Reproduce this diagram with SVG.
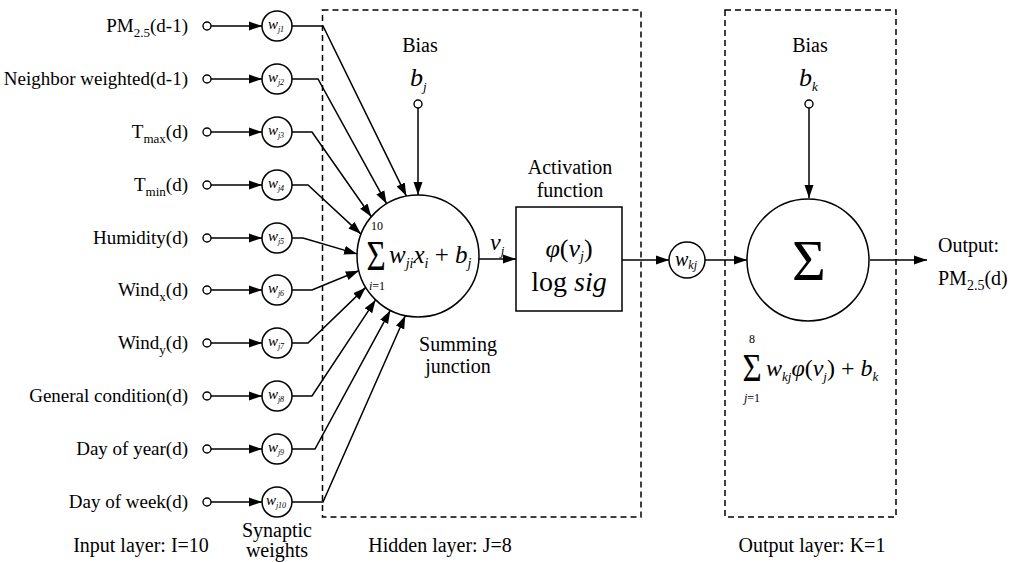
<svg xmlns="http://www.w3.org/2000/svg" width="1016" height="562" viewBox="0 0 1016 562" style="font-family: 'Liberation Serif', serif">
  <style>
    svg text, svg tspan { font-family: "Liberation Serif", serif !important; }
    text { fill: #000; }
    .lbl { font-size: 19px; }
    .cap { font-size: 20px; }
    .mi { font-style: italic; }
    .box { fill: none; stroke: #000; stroke-width: 1.5; stroke-dasharray: 6 4; }
    .arrow { fill: none; stroke: #000; stroke-width: 1.5; marker-end: url(#head); }
    .node { fill: #fff; stroke: #000; stroke-width: 1.5; }
    .port { fill: #fff; stroke: #000; stroke-width: 1.4; }
    .wt { font-size: 15px; font-style: italic; }
  </style>
  <defs>
    <marker id="head" markerUnits="userSpaceOnUse" markerWidth="13" markerHeight="10" refX="13" refY="5" orient="auto">
      <path d="M0,0.5 L13,5 L0,9.5 z" fill="#000"/>
    </marker>
  </defs>

  <rect width="1016" height="562" fill="#fff"/>

  <!-- layer frames -->
  <rect class="box" x="322.5" y="10" width="318.5" height="507"/>
  <rect class="box" x="725" y="10" width="171" height="507"/>

  <!-- connectors -->
  <g id="connectors">
    <!-- inputs to synaptic weights -->
    <path class="arrow" d="M211,26 H262"/>
    <path class="arrow" d="M211,79 H262"/>
    <path class="arrow" d="M211,132 H262"/>
    <path class="arrow" d="M211,185 H262"/>
    <path class="arrow" d="M211,238 H262"/>
    <path class="arrow" d="M211,290 H262"/>
    <path class="arrow" d="M211,343 H262"/>
    <path class="arrow" d="M211,396 H262"/>
    <path class="arrow" d="M211,449 H262"/>
    <path class="arrow" d="M211,502 H262"/>
    <!-- weights to summing junction -->
    <path class="arrow" d="M292,26 H323 L406.4,196.1"/>
    <path class="arrow" d="M292,79 H318 L386.6,203.7"/>
    <path class="arrow" d="M292,132 H312 L371.3,216.8"/>
    <path class="arrow" d="M292,185 H308 L361,234.1"/>
    <path class="arrow" d="M292,238 H303 L357,253.9"/>
    <path class="arrow" d="M292,290 H312 L358.8,270.8"/>
    <path class="arrow" d="M292,343 H308 L365.7,287.4"/>
    <path class="arrow" d="M292,396 H312 L375.6,299.9"/>
    <path class="arrow" d="M292,449 H315 L390.3,310.4"/>
    <path class="arrow" d="M292,502 H323 L405.3,315.7"/>
    <!-- hidden bias -->
    <path class="arrow" d="M418,108 V195"/>
    <!-- summing junction to activation -->
    <path class="arrow" d="M479,259 H516"/>
    <!-- activation to output weight -->
    <path class="arrow" d="M622,260 H669"/>
    <!-- output weight to output neuron -->
    <path class="arrow" d="M705,260 H747"/>
    <!-- output bias -->
    <path class="arrow" d="M809,108 V198"/>
    <!-- network output -->
    <path class="arrow" d="M870,260 H927"/>
  </g>

  <!-- input nodes -->
  <g id="input-1"><circle class="port" cx="207" cy="26" r="4"/><text class="lbl" font-family="Liberation Serif" x="188" y="32" text-anchor="end">PM<tspan font-size="13" dy="5">2.5</tspan><tspan dy="-5">(d-1)</tspan></text></g>
  <g id="input-2"><circle class="port" cx="207" cy="79" r="4"/><text class="lbl" font-family="Liberation Serif" x="188" y="85" text-anchor="end">Neighbor weighted(d-1)</text></g>
  <g id="input-3"><circle class="port" cx="207" cy="132" r="4"/><text class="lbl" font-family="Liberation Serif" x="188" y="138" text-anchor="end">T<tspan font-size="13" dy="5">max</tspan><tspan dy="-5">(d)</tspan></text></g>
  <g id="input-4"><circle class="port" cx="207" cy="185" r="4"/><text class="lbl" font-family="Liberation Serif" x="188" y="191" text-anchor="end">T<tspan font-size="13" dy="5">min</tspan><tspan dy="-5">(d)</tspan></text></g>
  <g id="input-5"><circle class="port" cx="207" cy="238" r="4"/><text class="lbl" font-family="Liberation Serif" x="188" y="244" text-anchor="end">Humidity(d)</text></g>
  <g id="input-6"><circle class="port" cx="207" cy="290" r="4"/><text class="lbl" font-family="Liberation Serif" x="188" y="296" text-anchor="end">Wind<tspan font-size="13" dy="5">x</tspan><tspan dy="-5">(d)</tspan></text></g>
  <g id="input-7"><circle class="port" cx="207" cy="343" r="4"/><text class="lbl" font-family="Liberation Serif" x="188" y="349" text-anchor="end">Wind<tspan font-size="13" dy="5">y</tspan><tspan dy="-5">(d)</tspan></text></g>
  <g id="input-8"><circle class="port" cx="207" cy="396" r="4"/><text class="lbl" font-family="Liberation Serif" x="188" y="402" text-anchor="end">General condition(d)</text></g>
  <g id="input-9"><circle class="port" cx="207" cy="449" r="4"/><text class="lbl" font-family="Liberation Serif" x="188" y="455" text-anchor="end">Day of year(d)</text></g>
  <g id="input-10"><circle class="port" cx="207" cy="502" r="4"/><text class="lbl" font-family="Liberation Serif" x="188" y="508" text-anchor="end">Day of week(d)</text></g>

  <!-- synaptic weights -->
  <g id="weight-1"><circle class="node" cx="277" cy="26" r="15"/><text class="wt" font-family="Liberation Serif" x="276" y="29" text-anchor="middle">w<tspan font-size="8" dy="3">j1</tspan></text></g>
  <g id="weight-2"><circle class="node" cx="277" cy="79" r="15"/><text class="wt" font-family="Liberation Serif" x="276" y="82" text-anchor="middle">w<tspan font-size="8" dy="3">j2</tspan></text></g>
  <g id="weight-3"><circle class="node" cx="277" cy="132" r="15"/><text class="wt" font-family="Liberation Serif" x="276" y="135" text-anchor="middle">w<tspan font-size="8" dy="3">j3</tspan></text></g>
  <g id="weight-4"><circle class="node" cx="277" cy="185" r="15"/><text class="wt" font-family="Liberation Serif" x="276" y="188" text-anchor="middle">w<tspan font-size="8" dy="3">j4</tspan></text></g>
  <g id="weight-5"><circle class="node" cx="277" cy="238" r="15"/><text class="wt" font-family="Liberation Serif" x="276" y="241" text-anchor="middle">w<tspan font-size="8" dy="3">j5</tspan></text></g>
  <g id="weight-6"><circle class="node" cx="277" cy="290" r="15"/><text class="wt" font-family="Liberation Serif" x="276" y="293" text-anchor="middle">w<tspan font-size="8" dy="3">j6</tspan></text></g>
  <g id="weight-7"><circle class="node" cx="277" cy="343" r="15"/><text class="wt" font-family="Liberation Serif" x="276" y="346" text-anchor="middle">w<tspan font-size="8" dy="3">j7</tspan></text></g>
  <g id="weight-8"><circle class="node" cx="277" cy="396" r="15"/><text class="wt" font-family="Liberation Serif" x="276" y="399" text-anchor="middle">w<tspan font-size="8" dy="3">j8</tspan></text></g>
  <g id="weight-9"><circle class="node" cx="277" cy="449" r="15"/><text class="wt" font-family="Liberation Serif" x="276" y="452" text-anchor="middle">w<tspan font-size="8" dy="3">j9</tspan></text></g>
  <g id="weight-10"><circle class="node" cx="277" cy="502" r="15"/><text class="wt" font-family="Liberation Serif" x="276" y="505" text-anchor="middle">w<tspan font-size="8" dy="3">j10</tspan></text></g>

  <!-- hidden bias -->
  <g id="bias-hidden">
    <text class="cap" font-family="Liberation Serif" x="420" y="52" text-anchor="middle">Bias</text>
    <text class="mi" font-family="Liberation Serif" x="410" y="86" font-size="26">b<tspan font-size="13" dy="5">j</tspan></text>
    <circle class="port" cx="418" cy="104" r="4"/>
  </g>

  <!-- summing junction -->
  <g id="summing-junction">
    <circle class="node" cx="418" cy="256" r="61"/>
    <text font-family="Liberation Serif" x="376" y="270" font-size="33" text-anchor="middle" transform="translate(376 270) scale(1 1.25) translate(-376 -270)">Σ</text>
    <text font-family="Liberation Serif" x="377" y="230" font-size="12" text-anchor="middle">10</text>
    <text font-family="Liberation Serif" x="377" y="290" font-size="12" text-anchor="middle"><tspan class="mi">i</tspan>=1</text>
    <text class="mi" font-family="Liberation Serif" x="389" y="263" font-size="25">w<tspan font-size="14" dy="5">ji</tspan><tspan dy="-5">x</tspan><tspan font-size="14" dy="5">i</tspan><tspan dy="-5" font-style="normal"> + </tspan>b<tspan font-size="14" dy="5">j</tspan></text>
    <text class="cap" font-family="Liberation Serif" x="458" y="351" text-anchor="middle">Summing</text>
    <text class="cap" font-family="Liberation Serif" x="458" y="373" text-anchor="middle">junction</text>
  </g>

  <!-- activation label on the link -->
  <g id="v-label">
    <text class="mi" font-family="Liberation Serif" x="490" y="250" font-size="24">v<tspan font-size="13" dy="5">j</tspan></text>
  </g>

  <!-- activation function -->
  <g id="activation">
    <text class="cap" font-family="Liberation Serif" x="570" y="174" text-anchor="middle">Activation</text>
    <text class="cap" font-family="Liberation Serif" x="570" y="197" text-anchor="middle">function</text>
    <rect class="node" x="516" y="207" width="106" height="104"/>
    <text font-family="Liberation Serif" x="569" y="257" font-size="26" text-anchor="middle"><tspan class="mi">φ</tspan>(<tspan class="mi">v</tspan><tspan class="mi" font-size="14" dy="4">j</tspan><tspan dy="-4">)</tspan></text>
    <text font-family="Liberation Serif" x="569" y="291" font-size="28" text-anchor="middle">log <tspan class="mi">sig</tspan></text>
  </g>

  <!-- output weight -->
  <g id="weight-out">
    <circle class="node" cx="687" cy="260" r="18"/>
    <text class="mi" font-family="Liberation Serif" x="686" y="266" font-size="20" text-anchor="middle">w<tspan font-size="12" dy="3">kj</tspan></text>
  </g>

  <!-- output bias -->
  <g id="bias-output">
    <text class="cap" font-family="Liberation Serif" x="810" y="52" text-anchor="middle">Bias</text>
    <text class="mi" font-family="Liberation Serif" x="799" y="86" font-size="26">b<tspan font-size="13" dy="5">k</tspan></text>
    <circle class="port" cx="809" cy="104" r="4"/>
  </g>

  <!-- output neuron -->
  <g id="output-neuron">
    <circle class="node" cx="808" cy="260" r="61"/>
    <text font-family="Liberation Serif" x="809" y="280" font-size="58" text-anchor="middle">Σ</text>
    <text font-family="Liberation Serif" x="752" y="381" font-size="33" text-anchor="middle" transform="translate(752 381) scale(1 1.2) translate(-752 -381)">Σ</text>
    <text font-family="Liberation Serif" x="752" y="343" font-size="12" text-anchor="middle">8</text>
    <text font-family="Liberation Serif" x="752" y="402" font-size="12" text-anchor="middle"><tspan class="mi">j</tspan>=1</text>
    <text font-family="Liberation Serif" x="766" y="376" font-size="24"><tspan class="mi">w</tspan><tspan class="mi" font-size="13" dy="5">kj</tspan><tspan class="mi" dy="-5">φ</tspan>(<tspan class="mi">v</tspan><tspan class="mi" font-size="13" dy="5">j</tspan><tspan dy="-5">) + </tspan><tspan class="mi">b</tspan><tspan class="mi" font-size="13" dy="5">k</tspan></text>
  </g>

  <!-- network output -->
  <g id="output">
    <text class="cap" font-family="Liberation Serif" x="938" y="252">Output:</text>
    <text class="cap" font-family="Liberation Serif" x="938" y="285">PM<tspan font-size="14" dy="5">2.5</tspan><tspan dy="-5">(d)</tspan></text>
  </g>

  <!-- layer captions -->
  <g id="captions">
    <text class="cap" font-family="Liberation Serif" x="141" y="552" text-anchor="middle">Input layer: I=10</text>
    <text class="cap" font-family="Liberation Serif" x="277" y="537" font-size="19" text-anchor="middle">Synaptic</text>
    <text class="cap" font-family="Liberation Serif" x="277" y="557" font-size="19" text-anchor="middle">weights</text>
    <text class="cap" font-family="Liberation Serif" x="440" y="552" text-anchor="middle">Hidden layer: J=8</text>
    <text class="cap" font-family="Liberation Serif" x="812" y="552" text-anchor="middle">Output layer: K=1</text>
  </g>
</svg>
